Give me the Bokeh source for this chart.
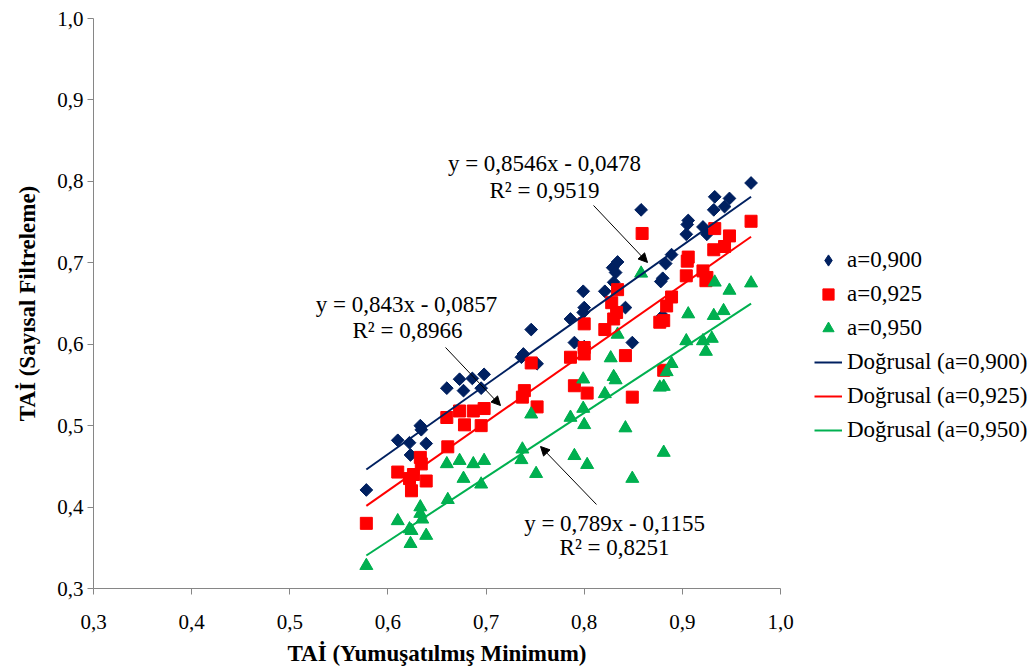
import math
from bokeh.plotting import figure
from bokeh.models import (Legend, LegendItem, FixedTicker, CustomJSTickFormatter,
                          Label, Arrow, NormalHead, ColumnDataSource)
from bokeh.embed import file_html
from bokeh.resources import INLINE

# ---------------- data ----------------
x_900 = [0.578, 0.610, 0.622, 0.623, 0.633, 0.634, 0.639, 0.660, 0.673, 0.677, 0.686, 0.698, 0.695,
         0.736, 0.738, 0.746, 0.752, 0.786, 0.790, 0.799, 0.800, 0.799, 0.800, 0.821, 0.829, 0.832,
         0.834, 0.830, 0.842, 0.849, 0.858, 0.878, 0.880, 0.880, 0.883, 0.889, 0.904, 0.905, 0.906,
         0.921, 0.925, 0.932, 0.933, 0.943, 0.948, 0.970]
y_900 = [0.421, 0.482, 0.479, 0.464, 0.500, 0.495, 0.478, 0.546, 0.557, 0.543, 0.558, 0.563, 0.546,
         0.584, 0.588, 0.618, 0.576, 0.631, 0.602, 0.665, 0.645, 0.639, 0.597, 0.665, 0.694, 0.688,
         0.701, 0.676, 0.645, 0.602, 0.765, 0.677, 0.681, 0.635, 0.699, 0.710, 0.735, 0.747, 0.752,
         0.744, 0.735, 0.765, 0.781, 0.769, 0.779, 0.798]

x_925 = [0.578, 0.610, 0.622, 0.624, 0.626, 0.633, 0.634, 0.639, 0.660, 0.661, 0.673, 0.678, 0.687,
         0.698, 0.695, 0.737, 0.739, 0.746, 0.752, 0.786, 0.790, 0.800, 0.800, 0.800, 0.803, 0.821,
         0.828, 0.830, 0.833, 0.834, 0.842, 0.849, 0.859, 0.877, 0.881, 0.881, 0.884, 0.889, 0.904,
         0.905, 0.906, 0.921, 0.924, 0.925, 0.932, 0.933, 0.943, 0.948, 0.970]
y_925 = [0.380, 0.443, 0.435, 0.420, 0.440, 0.461, 0.453, 0.432, 0.510, 0.474, 0.518, 0.501, 0.518,
         0.521, 0.500, 0.535, 0.543, 0.577, 0.523, 0.584, 0.549, 0.625, 0.596, 0.588, 0.540, 0.618,
         0.651, 0.631, 0.639, 0.667, 0.586, 0.535, 0.736, 0.627, 0.629, 0.568, 0.647, 0.658, 0.684,
         0.702, 0.707, 0.690, 0.678, 0.682, 0.716, 0.742, 0.720, 0.733, 0.751]

x_950 = [0.578, 0.610, 0.622, 0.624, 0.623, 0.633, 0.633, 0.635, 0.639, 0.660, 0.661, 0.673, 0.677,
         0.687, 0.695, 0.698, 0.736, 0.737, 0.746, 0.751, 0.786, 0.790, 0.799, 0.799, 0.800, 0.803,
         0.821, 0.827, 0.830, 0.832, 0.834, 0.842, 0.849, 0.858, 0.877, 0.881, 0.881, 0.884, 0.889,
         0.904, 0.906, 0.921, 0.924, 0.930, 0.932, 0.933, 0.942, 0.948, 0.970]
y_950 = [0.328, 0.383, 0.373, 0.371, 0.355, 0.400, 0.392, 0.385, 0.365, 0.453, 0.409, 0.457, 0.435,
         0.453, 0.428, 0.457, 0.458, 0.471, 0.514, 0.441, 0.510, 0.463, 0.557, 0.521, 0.501, 0.452,
         0.539, 0.583, 0.560, 0.556, 0.612, 0.497, 0.435, 0.687, 0.547, 0.548, 0.467, 0.566, 0.576,
         0.604, 0.637, 0.604, 0.591, 0.607, 0.635, 0.676, 0.641, 0.666, 0.675]

series_names = ["a=0,900", "a=0,925", "a=0,950"]
trend_names = ["Doğrusal (a=0,900)", "Doğrusal (a=0,925)", "Doğrusal (a=0,950)"]
slopes = [0.8546, 0.843, 0.789]
intercepts = [-0.0478, -0.0857, -0.1155]
eq_texts = [("y = 0,8546x - 0,0478", "R² = 0,9519"),
            ("y = 0,843x - 0,0857", "R² = 0,8966"),
            ("y = 0,789x - 0,1155", "R² = 0,8251")]
tick_values = [0.3, 0.4, 0.5, 0.6, 0.7, 0.8, 0.9, 1.0]
x_title = "TAİ (Yumuşatılmış Minimum)"
y_title = "TAİ (Sayısal Filtreleme)"

# ---------------- styles / layout ----------------
colors = ["#002060", "#FF0000", "#00B050"]
FONT = "Liberation Serif"
# label placement (data coordinates): (line1 x, line1 y, line2 x, line2 y)
eq_pos = [(0.7595, 0.8219, 0.7595, 0.7888),
          (0.6189, 0.6488, 0.6199, 0.6169),
          (0.8309, 0.3798, 0.8309, 0.3504)]
# arrows: (x_start, y_start, x_end, y_end)
arrow_pos = [(0.8095, 0.7704, 0.8645, 0.7004),
             (0.6587, 0.5960, 0.7147, 0.5247),
             (0.8125, 0.4032, 0.7555, 0.4744)]

p = figure(frame_width=687, frame_height=570, x_range=(0.3, 1.0), y_range=(0.3, 1.0),
           output_backend="svg", toolbar_location=None,
           min_border_left=93, min_border_right=251, min_border_top=18, min_border_bottom=83)
p.xgrid.visible = False
p.ygrid.visible = False
p.outline_line_color = None
p.background_fill_color = "white"
p.border_fill_color = "white"

fmt = CustomJSTickFormatter(code="return tick.toFixed(1).replace('.', ',');")
for ax in (p.xaxis[0], p.yaxis[0]):
    ax.ticker = FixedTicker(ticks=tick_values)
    ax.formatter = fmt
    ax.axis_line_color = "#868686"
    ax.major_tick_line_color = "#868686"
    ax.major_tick_out = 6
    ax.major_tick_in = 0
    ax.minor_tick_line_color = None
    ax.major_label_text_font = FONT
    ax.major_label_text_font_size = "21px"
    ax.major_label_text_color = "black"
    ax.axis_label_text_font = FONT
    ax.axis_label_text_font_size = "23px"
    ax.axis_label_text_font_style = "bold"
    ax.axis_label_text_color = "black"

p.xaxis[0].axis_label = x_title
p.yaxis[0].axis_label = y_title
p.xaxis[0].major_label_standoff = 20
p.yaxis[0].major_label_standoff = 4
p.xaxis[0].axis_label_standoff = 9
p.yaxis[0].axis_label_standoff = 14

xs = [x_900, x_925, x_950]
ys = [y_900, y_925, y_950]
markers = ["square", "square", "triangle"]
angles = [math.pi / 4, 0, 0]
sizes = [9, 12, 13]
legend_markers = ["diamond", "square", "triangle"]
legend_sizes = [11, 9, 11]

sources = [ColumnDataSource(dict(x=xs[i], y=ys[i])) for i in range(3)]

# legend swatch renderers (drawn first, underneath the plotted markers of the same series)
legend_swatches = []
for i in range(3):
    sw = p.scatter("x", "y", source=sources[i], marker=legend_markers[i], size=legend_sizes[i],
                   fill_color=colors[i], line_color=colors[i])
    legend_swatches.append(sw)

marker_renderers = []
for i in range(3):
    r = p.scatter("x", "y", source=sources[i], marker=markers[i], angle=angles[i], size=sizes[i],
                  fill_color=colors[i], line_color=colors[i])
    marker_renderers.append(r)

line_renderers = []
for i in range(3):
    x0, x1 = min(xs[i]), max(xs[i])
    r = p.line([x0, x1], [slopes[i] * x0 + intercepts[i], slopes[i] * x1 + intercepts[i]],
               line_color=colors[i], line_width=2)
    line_renderers.append(r)

for i in range(3):
    lx1, ly1, lx2, ly2 = eq_pos[i]
    p.add_layout(Label(x=lx1, y=ly1, text=eq_texts[i][0], text_font=FONT, text_font_size="23px",
                       text_align="center", text_baseline="middle", text_color="black"))
    p.add_layout(Label(x=lx2, y=ly2, text=eq_texts[i][1], text_font=FONT, text_font_size="23px",
                       text_align="center", text_baseline="middle", text_color="black"))
    ax0, ay0, ax1, ay1 = arrow_pos[i]
    p.add_layout(Arrow(x_start=ax0, y_start=ay0, x_end=ax1, y_end=ay1, line_color="black",
                       line_width=1, end=NormalHead(size=9, fill_color="black", line_color="black")))

items = [LegendItem(label=series_names[i], renderers=[legend_swatches[i]]) for i in range(3)]
items += [LegendItem(label=trend_names[i], renderers=[line_renderers[i]]) for i in range(3)]
legend = Legend(items=items, location=(34, 143), label_text_font=FONT, label_text_font_size="23px",
                label_text_color="black", glyph_width=28, glyph_height=30, spacing=4,
                label_standoff=5, padding=10, border_line_color=None, background_fill_alpha=0,
                margin=0)
p.add_layout(legend, "right")

open("out.html", "w").write(file_html(p, INLINE))
